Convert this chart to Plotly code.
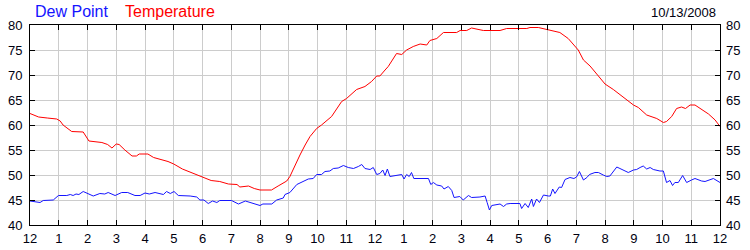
import plotly.graph_objects as go

# ---- data (hours since midnight, values in degrees F) ----
temp_hours = [0, 0.3, 0.6, 0.93, 1.05, 1.15, 1.45, 1.85, 2.05, 2.3, 2.5, 2.7, 2.85, 3.0, 3.1, 3.3,
              3.55, 3.7, 3.8, 4.1, 4.3, 4.8, 5.0, 5.3, 5.6, 6.0, 6.3, 6.6, 6.9, 7.2, 7.3, 7.6, 7.8,
              8.0, 8.4, 8.63, 8.93, 9.04, 9.22, 9.39, 9.57, 9.74, 9.97, 10.14, 10.49, 10.84, 11.01,
              11.36, 11.65, 11.88, 12.06, 12.17, 12.35, 12.46, 12.75, 12.93, 13.1, 13.33, 13.57,
              13.8, 13.91, 14.15, 14.38, 14.84, 14.96, 15.19, 15.36, 15.65, 15.77, 16.35, 16.58,
              17.28, 17.39, 17.68, 18.03, 18.43, 18.72, 19.07, 19.25, 19.48, 19.77, 20.0, 20.29,
              20.7, 20.99, 21.16, 21.45, 21.8, 22.03, 22.14, 22.32, 22.49, 22.66, 22.8, 22.96,
              23.13, 23.3, 23.6, 23.83, 24.0]
temp_values = [62.3, 61.6, 61.4, 61.2, 60.8, 60.0, 58.7, 58.6, 56.8, 56.6, 56.5, 56.1, 55.4, 56.2,
               56.1, 55.0, 53.8, 53.8, 54.2, 54.2, 53.5, 52.7, 52.2, 51.2, 50.5, 49.5, 48.9, 48.7,
               48.2, 48.1, 47.6, 47.8, 47.3, 47.0, 47.0, 47.8, 48.8, 49.7, 52.0, 54.0, 56.0, 57.7,
               59.3, 60.0, 61.7, 64.7, 65.3, 67.1, 67.7, 68.7, 69.8, 69.8, 71.0, 71.7, 74.3, 74.1,
               75.0, 75.7, 76.2, 76.0, 76.9, 77.3, 78.5, 78.5, 78.9, 78.9, 79.4, 79.1, 78.9, 78.9,
               79.3, 79.3, 79.5, 79.5, 79.1, 78.5, 77.3, 75.0, 73.0, 71.8, 69.8, 68.2, 67.1, 65.3,
               64.0, 63.5, 62.0, 61.3, 60.5, 60.7, 61.7, 63.3, 63.6, 63.3, 64.0, 64.0, 63.3, 62.2,
               61.0, 59.7]

dew_hours = [0, 0.35, 0.46, 0.81, 0.99, 1.28, 1.4, 1.5, 1.6, 1.7, 1.85, 2.0, 2.2, 2.43, 2.6, 2.72,
             2.96, 3.19, 3.4, 3.65, 3.83, 4.0, 4.15, 4.35, 4.64, 4.75, 4.88, 5.01, 5.16, 5.57, 5.8,
             5.91, 6.05, 6.2, 6.35, 6.5, 6.6, 7.01, 7.25, 7.49, 7.65, 8.0, 8.1, 8.41, 8.58, 8.81,
             8.87, 9.04, 9.28, 9.45, 9.68, 9.85, 9.97, 10.14, 10.26, 10.43, 10.55, 10.72, 10.9,
             11.07, 11.25, 11.42, 11.54, 11.65, 11.83, 11.94, 12.06, 12.17, 12.27, 12.35, 12.43,
             12.52, 12.75, 12.93, 13.01, 13.1, 13.19, 13.27, 13.35, 13.56, 13.73, 13.86, 13.94,
             14.03, 14.15, 14.32, 14.4, 14.55, 14.67, 14.75, 14.95, 15.07, 15.25, 15.36, 15.65,
             15.83, 15.9, 15.98, 16.06, 16.2, 16.35, 16.47, 16.58, 16.7, 17.04, 17.1, 17.22, 17.33,
             17.45, 17.51, 17.62, 17.72, 17.86, 18.03, 18.1, 18.18, 18.26, 18.41, 18.49, 18.61,
             18.78, 18.92, 19.01, 19.11, 19.25, 19.37, 19.46, 19.65, 19.77, 19.94, 20.06, 20.17,
             20.41, 20.52, 20.81, 20.99, 21.1, 21.22, 21.33, 21.45, 21.57, 21.68, 21.91, 22.03,
             22.14, 22.26, 22.35, 22.43, 22.55, 22.7, 22.84, 23.01, 23.13, 23.36, 23.48, 23.77, 24.0]
dew_values = [44.8, 44.5, 44.9, 45.0, 45.9, 45.9, 46.1, 45.9, 46.2, 46.1, 46.7, 46.3, 45.8, 46.3,
              46.2, 46.5, 45.9, 46.5, 46.5, 45.9, 45.9, 46.4, 46.2, 46.5, 46.1, 46.7, 46.3, 46.7,
              45.9, 45.8, 45.6, 45.0, 45.0, 44.3, 44.8, 44.5, 44.9, 44.9, 44.2, 44.8, 44.5, 43.9,
              44.2, 44.2, 45.0, 45.4, 46.1, 46.5, 48.1, 48.5, 49.2, 49.3, 50.1, 50.1, 50.7, 50.8,
              51.3, 51.4, 51.9, 51.5, 51.3, 51.7, 52.1, 51.3, 51.1, 51.5, 50.1, 50.3, 51.0, 49.9,
              51.2, 49.7, 50.0, 50.1, 49.2, 50.1, 49.7, 50.5, 49.3, 49.3, 49.4, 49.3, 48.1, 48.5,
              48.0, 47.8, 47.2, 47.7, 46.9, 45.5, 45.7, 45.0, 45.9, 45.5, 45.6, 45.8, 44.5, 43.0,
              43.9, 44.0, 44.2, 43.7, 44.2, 44.3, 44.3, 43.3, 44.3, 43.5, 45.2, 43.7, 45.2, 44.5,
              46.0, 45.8, 45.8, 47.2, 46.3, 47.6, 47.5, 49.1, 49.5, 49.3, 49.6, 50.7, 49.0, 49.5,
              50.1, 50.5, 50.5, 50.0, 49.7, 49.8, 51.6, 51.3, 50.5, 51.0, 51.1, 51.5, 51.8, 51.2,
              51.5, 51.1, 50.8, 50.8, 48.5, 48.9, 47.9, 48.5, 48.5, 49.9, 48.5, 49.0, 49.3, 48.8,
              48.7, 49.3, 48.5]

hour_ticks = list(range(0, 25))
hour_labels = ["12", "1", "2", "3", "4", "5", "6", "7", "8", "9", "10", "11",
               "12", "1", "2", "3", "4", "5", "6", "7", "8", "9", "10", "11", "12"]
y_ticks = [40, 45, 50, 55, 60, 65, 70, 75, 80]
date_label = "10/13/2008"

FONT = "Liberation Sans, Arial, sans-serif"
BLUE = "#1414ff"
RED = "#ff0000"

fig = go.Figure()
fig.add_trace(go.Scatter(x=temp_hours, y=temp_values, mode="lines", name="Temperature",
                         line=dict(color=RED, width=1)))
fig.add_trace(go.Scatter(x=dew_hours, y=dew_values, mode="lines", name="Dew Point",
                         line=dict(color=BLUE, width=1)))
# invisible trace to carry the right-hand axis
fig.add_trace(go.Scatter(x=[0, 24], y=[40, 80], yaxis="y2", mode="lines",
                         line=dict(width=0), opacity=0, showlegend=False, hoverinfo="skip"))

axis_common = dict(showline=True, linecolor="black", linewidth=1, mirror="ticks",
                   ticks="inside", ticklen=5, tickcolor="black", tickwidth=1,
                   showgrid=True, gridcolor="#cccccc", gridwidth=1, zeroline=False,
                   automargin=False,
                   tickfont=dict(family=FONT, size=13, color="#000010"))

fig.update_layout(
    width=750, height=250,
    margin=dict(l=30, r=30, t=25, b=25),
    paper_bgcolor="white", plot_bgcolor="white",
    showlegend=False,
    xaxis=dict(range=[0, 24], tickvals=hour_ticks, ticktext=hour_labels,
               ticklabelstandoff=1, **axis_common),
    yaxis=dict(range=[40, 80], tickvals=y_ticks, ticklabelstandoff=4, **axis_common),
    yaxis2=dict(range=[40, 80], tickvals=y_ticks, overlaying="y", side="right",
                showgrid=False, showline=False, ticks="", zeroline=False, ticklabelstandoff=5,
                automargin=False,
                tickfont=dict(family=FONT, size=13, color="#000010")),
    annotations=[
        dict(text="Dew Point", xref="paper", yref="paper", x=3 / 690, y=1.0675,
             xanchor="left", yanchor="middle", showarrow=False,
             font=dict(family=FONT, size=16, color=BLUE)),
        dict(text="Temperature", xref="paper", yref="paper", x=93 / 690, y=1.0675,
             xanchor="left", yanchor="middle", showarrow=False,
             font=dict(family=FONT, size=16, color=RED)),
        dict(text=date_label, xref="paper", yref="paper", x=688 / 690, y=1.065,
             xanchor="right", yanchor="middle", showarrow=False,
             font=dict(family=FONT, size=13, color="#000010")),
    ],
)

fig.write_html("out.html")
